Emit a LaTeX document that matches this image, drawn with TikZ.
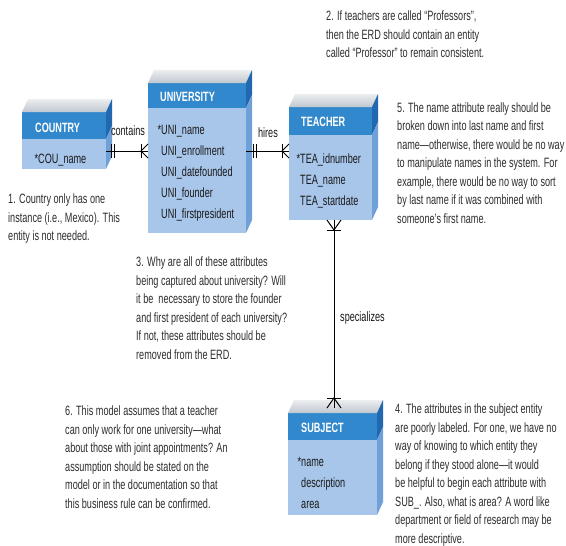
\documentclass[tikz,border=0pt]{standalone}
\usepackage{fontspec}
\setmainfont{Liberation Sans}[FakeStretch=0.675]
\usetikzlibrary{calc}
\definecolor{hdrblue}{RGB}{50,136,205}
\definecolor{bodyblue}{RGB}{168,198,234}
\definecolor{sidedark}{RGB}{34,104,176}
\definecolor{sidelight}{RGB}{112,160,216}
\definecolor{topgreyA}{RGB}{236,238,240}
\definecolor{topgreyB}{RGB}{192,199,207}
\definecolor{notetext}{RGB}{45,45,45}
\definecolor{attrtext}{RGB}{25,25,25}
\newcommand\notefont{\fontsize{13.5}{18.5}\selectfont}
\newcommand\attrfont{\fontsize{13.5}{16}\selectfont}
\newcommand\hdrfont{\bfseries\fontsize{13.5}{16}\selectfont}
\tikzset{
 hdrbox/.style={anchor=north west, fill=hdrblue, inner sep=0pt, outer sep=0pt},
 bodybox/.style={anchor=north west, fill=bodyblue, inner sep=0pt, outer sep=0pt},
 hdrtext/.style={anchor=base west, font=\hdrfont, text=white, inner sep=0pt},
 attr/.style={anchor=base west, font=\attrfont, text=attrtext, inner sep=0pt},
 note/.style={anchor=north west, font=\notefont, text=notetext, align=left, inner sep=0pt},
 rel/.style={anchor=base, font=\attrfont, text=attrtext, inner sep=0pt},
 conn/.style={draw=black, line width=1pt},
 topface/.style={top color=topgreyA, bottom color=topgreyB},
}
\newcommand\erfaces[2]{%
 \shade[topface] (#1.north west) -- ++(6,-13) -- ($(#1.north east)+(6,-13)$) -- (#1.north east) -- cycle;
 \fill[sidedark] (#1.north east) -- ++(6,-13) -- ($(#1.south east)+(6,-13)$) -- (#1.south east) -- cycle;
 \fill[sidelight] (#2.north east) -- ++(6,-13) -- ($(#2.south east)+(6,-13)$) -- (#2.south east) -- cycle;
}
\begin{document}
\begin{tikzpicture}[x=1pt,y=-1pt]
\fill[white] (0,0) rectangle (566,546);
\useasboundingbox (0,0) rectangle (566,546);

% ---------- entities ----------
\node[hdrbox, minimum width=84pt, minimum height=27pt] (couH) at (22,112) {};
\node[bodybox, minimum width=84pt, minimum height=30pt] (couB) at (22,139) {};
\erfaces{couH}{couB}
\node[hdrtext] (couT) at (35,132) {COUNTRY};
\node[attr] (cou1) at (38,163) {\llap{*}COU\_name};

\node[hdrbox, minimum width=98pt, minimum height=25pt] (uniH) at (148,83) {};
\node[bodybox, minimum width=98pt, minimum height=125pt] (uniB) at (148,108) {};
\erfaces{uniH}{uniB}
\node[hdrtext] (uniT) at (160,101) {UNIVERSITY};
\node[attr] (uni1) at (161,134) {\llap{*}UNI\_name};
\node[attr] (uni2) at (161,155) {UNI\_enrollment};
\node[attr] (uni3) at (161,176) {UNI\_datefounded};
\node[attr] (uni4) at (161,197) {UNI\_founder};
\node[attr] (uni5) at (161,218) {UNI\_firstpresident};

\node[hdrbox, minimum width=83pt, minimum height=28pt] (teaH) at (289,107) {};
\node[bodybox, minimum width=83pt, minimum height=85pt] (teaB) at (289,135) {};
\erfaces{teaH}{teaB}
\node[hdrtext] (teaT) at (301,126) {TEACHER};
\node[attr] (tea1) at (300,163) {\llap{*}TEA\_idnumber};
\node[attr] (tea2) at (300,184) {TEA\_name};
\node[attr] (tea3) at (300,205) {TEA\_startdate};

\node[hdrbox, minimum width=89pt, minimum height=27pt] (subH) at (288,413) {};
\node[bodybox, minimum width=89pt, minimum height=75pt] (subB) at (288,440) {};
\erfaces{subH}{subB}
\node[hdrtext] (subT) at (301,432) {SUBJECT};
\node[attr] (sub1) at (301,466) {\llap{*}name};
\node[attr] (sub2) at (301,487) {description};
\node[attr] (sub3) at (301,508) {area};

% ---------- relationships ----------
\coordinate (yrel) at (0,151);
\coordinate (xrel) at (334,0);

% contains
\coordinate (c1a) at (couB.east |- yrel);
\coordinate (c1b) at (uniB.west |- yrel);
\draw[conn] (c1a) -- (c1b);
\draw[conn] ($(c1a)+(5,-7)$) -- ($(c1a)+(5,7)$);
\draw[conn] ($(c1a)+(8.5,-7)$) -- ($(c1a)+(8.5,7)$);
\draw[conn] ($(c1b)+(-7,-7)$) -- ($(c1b)+(-7,7)$);
\draw[conn] ($(c1b)+(0,-7)$) -- ($(c1b)+(-7,0)$) -- ($(c1b)+(0,7)$);
\node[rel] (lbl1) at (128,135) {contains};

% hires
\coordinate (c2a) at (uniB.east |- yrel);
\coordinate (c2b) at (teaB.west |- yrel);
\draw[conn] (c2a) -- (c2b);
\draw[conn] ($(c2a)+(7,-7)$) -- ($(c2a)+(7,7)$);
\draw[conn] ($(c2a)+(10.5,-7)$) -- ($(c2a)+(10.5,7)$);
\draw[conn] ($(c2b)+(-7,-7)$) -- ($(c2b)+(-7,7)$);
\draw[conn] ($(c2b)+(0,-7)$) -- ($(c2b)+(-7,0)$) -- ($(c2b)+(0,7)$);
\node[rel] (lbl2) at (268,137) {hires};

% specializes
\coordinate (c3a) at (teaB.south -| xrel);
\coordinate (c3b) at ($(subH.north -| xrel)+(0,-5)$);
\draw[conn] (c3a) -- (c3b);
\draw[conn] ($(c3a)+(-7,10)$) -- ($(c3a)+(7,10)$);
\draw[conn] ($(c3a)+(-7,0)$) -- ($(c3a)+(0,10)$) -- ($(c3a)+(7,0)$);
\draw[conn] ($(c3b)+(-7,-10)$) -- ($(c3b)+(7,-10)$);
\draw[conn] ($(c3b)+(-7,0)$) -- ($(c3b)+(0,-10)$) -- ($(c3b)+(7,0)$);
\node[attr] (lbl3) at (340,321) {specializes};

% ---------- notes ----------
\node[note] (n2) at (326,11) {2. If teachers are called “Professors”,\\then the ERD should contain an entity\\called “Professor” to remain consistent.};
\node[note] (n5) at (397,102.5) {5. The name attribute really should be\\broken down into last name and first\\name—otherwise, there would be no way\\to manipulate names in the system. For\\example, there would be no way to sort\\by last name if it was combined with\\someone’s first name.};
\node[note] (n1) at (8,194) {1. Country only has one\\instance (i.e., Mexico). This\\entity is not needed.};
\node[note] (n3) at (136,257) {3. Why are all of these attributes\\being captured about university? Will\\it be\ \ necessary to store the founder\\and first president of each university?\\If not, these attributes should be\\removed from the ERD.};
\node[note] (n6) at (65,406) {6. This model assumes that a teacher\\can only work for one university—what\\about those with joint appointments? An\\assumption should be stated on the\\model or in the documentation so that\\this business rule can be confirmed.};
\node[note] (n4) at (395,404) {4. The attributes in the subject entity\\are poorly labeled. For one, we have no\\way of knowing to which entity they\\belong if they stood alone—it would\\be helpful to begin each attribute with\\SUB\_. Also, what is area? A word like\\department or field of research may be\\more descriptive.};
\end{tikzpicture}
\end{document}
